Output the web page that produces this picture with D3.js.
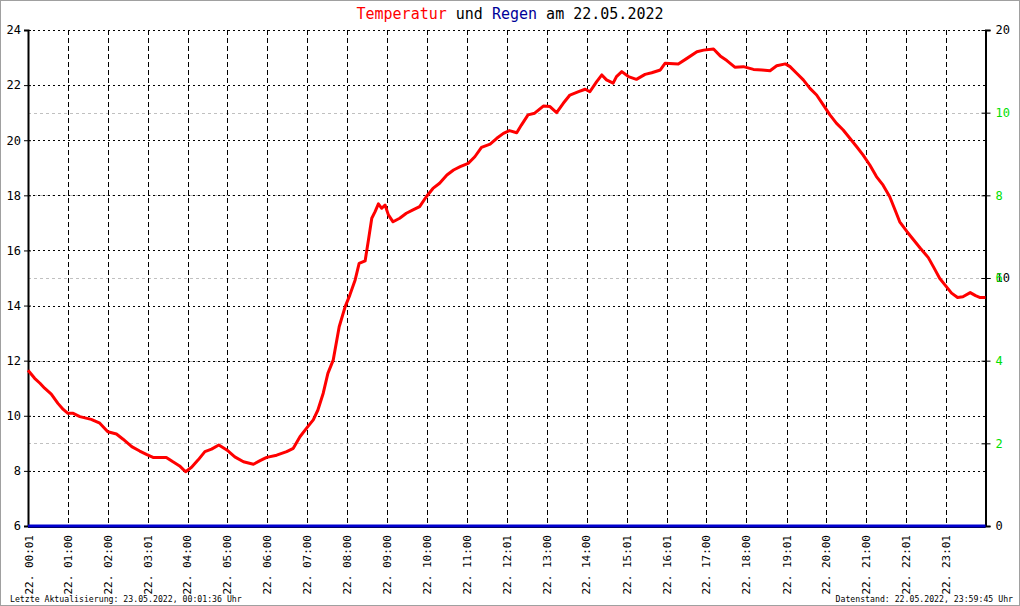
<!DOCTYPE html>
<html>
<head>
<meta charset="utf-8">
<script src="https://cdn.jsdelivr.net/npm/d3@7"></script>
<style>
  html, body { margin: 0; padding: 0; background: #fff; }
  svg { display: block; }
  text { font-family: "DejaVu Sans Mono", "Liberation Mono", monospace; white-space: pre; }
</style>
</head>
<body>
<svg id="chart" width="1020" height="606"></svg>
<script>
// ---- data ----
// time in minutes since 00:00 on 22.05.2022
const tempTimes = [0,10,18,25,35,45,53,60,68,78,95,108,120,133,143,156,168,178,188,208,218,228,237,246,256,266,276,287,299,311,324,339,349,359,374,389,399,409,419,429,436,444,451,459,468,477,484,492,498,507,512,517,522,527,532,537,542,549,559,569,579,589,599,609,619,630,640,650,662,672,682,695,705,715,724,735,742,752,762,775,785,795,805,815,828,838,845,855,863,870,880,885,893,903,915,928,938,951,958,978,991,1006,1016,1031,1041,1051,1063,1076,1091,1104,1116,1126,1139,1146,1156,1166,1176,1186,1196,1206,1216,1226,1236,1246,1256,1266,1276,1286,1296,1304,1311,1322,1332,1342,1354,1363,1371,1379,1389,1398,1406,1417,1425,1432,1440];
const temperature = [11.65,11.36,11.18,11.0,10.79,10.45,10.23,10.09,10.09,9.97,9.87,9.73,9.42,9.34,9.15,8.88,8.72,8.60,8.49,8.49,8.33,8.18,7.97,8.13,8.40,8.70,8.79,8.94,8.76,8.51,8.33,8.24,8.37,8.49,8.57,8.70,8.82,9.24,9.55,9.85,10.21,10.82,11.54,12.02,13.23,13.96,14.38,14.93,15.53,15.62,16.38,17.17,17.41,17.69,17.53,17.65,17.29,17.04,17.17,17.35,17.47,17.59,17.95,18.25,18.44,18.74,18.92,19.04,19.16,19.40,19.74,19.86,20.07,20.25,20.35,20.27,20.55,20.92,20.98,21.24,21.22,21.0,21.34,21.64,21.76,21.85,21.76,22.12,22.37,22.19,22.07,22.31,22.49,22.31,22.21,22.39,22.45,22.55,22.79,22.77,22.97,23.21,23.27,23.31,23.06,22.89,22.65,22.67,22.57,22.55,22.52,22.70,22.77,22.67,22.43,22.19,21.88,21.64,21.28,20.92,20.61,20.37,20.07,19.77,19.46,19.10,18.68,18.37,17.95,17.47,17.04,16.68,16.38,16.08,15.74,15.35,14.99,14.75,14.45,14.29,14.32,14.47,14.36,14.29,14.29];
const rainTimes = [0, 1440];
const rain = [0, 0];

const tempTicks = [6, 8, 10, 12, 14, 16, 18, 20, 22, 24];
const rainTicks = [0, 10, 20];
const secondTicks = [2, 4, 6, 8, 10];
const xTickTimes = [1, 60, 120, 181, 240, 300, 360, 420, 480, 540, 600, 660, 721, 780, 840, 901, 961, 1020, 1080, 1141, 1200, 1260, 1321, 1381];
const xTickLabels = ["22. 00:01","22. 01:00","22. 02:00","22. 03:01","22. 04:00","22. 05:00","22. 06:00","22. 07:00","22. 08:00","22. 09:00","22. 10:00","22. 11:00","22. 12:01","22. 13:00","22. 14:00","22. 15:01","22. 16:01","22. 17:00","22. 18:00","22. 19:01","22. 20:00","22. 21:00","22. 22:01","22. 23:01"];

// ---- layout ----
const W = 1020, H = 606;
const L = 28, R = 985.5, T = 30, B = 526;
const svg = d3.select("#chart");

const x = d3.scaleLinear().domain([0, 1440]).range([L, R]);
const yT = d3.scaleLinear().domain([6, 24]).range([B, T]);
const yR = d3.scaleLinear().domain([0, 20]).range([B, T]);
const y2 = d3.scaleLinear().domain([0, 12]).range([B, T]);

// outer frame
svg.append("rect").attr("x", 0.5).attr("y", 0.5).attr("width", W - 1).attr("height", H - 1)
  .attr("fill", "#fff").attr("stroke", "#a0a0a0").attr("stroke-width", 1);

// title
const title = svg.append("text").attr("x", 510).attr("y", 19).attr("text-anchor", "middle")
  .attr("font-size", 15);
title.append("tspan").attr("fill", "#ff0000").text("Temperatur");
title.append("tspan").attr("fill", "#000").text(" und ");
title.append("tspan").attr("fill", "#000099").text("Regen");
title.append("tspan").attr("fill", "#000").text(" am 22.05.2022");

// gray dashed grid for second right scale
svg.append("g").selectAll("line").data(secondTicks).join("line")
  .attr("x1", L).attr("x2", R)
  .attr("y1", d => Math.round(y2(d)) + 0.5).attr("y2", d => Math.round(y2(d)) + 0.5)
  .attr("stroke", "#c0c0c0").attr("stroke-dasharray", "3,3");

// horizontal dotted grid (temperature)
svg.append("g").selectAll("line").data(tempTicks.filter(d => d > 6)).join("line")
  .attr("x1", L).attr("x2", R)
  .attr("y1", d => Math.round(yT(d)) + 0.5).attr("y2", d => Math.round(yT(d)) + 0.5)
  .attr("stroke", "#000").attr("stroke-dasharray", "2,3");

// vertical dashed grid
svg.append("g").selectAll("line").data(xTickTimes.slice(1)).join("line")
  .attr("x1", d => Math.round(x(d)) + 0.5).attr("x2", d => Math.round(x(d)) + 0.5)
  .attr("y1", T).attr("y2", B)
  .attr("stroke", "#000").attr("stroke-dasharray", "5,3");

// left axis
const gL = svg.append("g").attr("transform", `translate(${L},0)`)
  .call(d3.axisLeft(yT).tickValues(tempTicks).tickSize(4).tickPadding(3).tickFormat(d3.format("d")));
gL.select(".domain").attr("stroke", "#000").attr("stroke-width", 2);
gL.selectAll(".tick line").attr("x2", -4).attr("x1", 3).attr("stroke", "#000");
gL.selectAll(".tick text").attr("font-size", 12).attr("font-family", "DejaVu Sans Mono").attr("fill", "#000").attr("x", -7);

// right axis (rain, black)
const gR = svg.append("g").attr("transform", `translate(${R},0)`)
  .call(d3.axisRight(yR).tickValues(rainTicks).tickSize(5).tickPadding(4).tickFormat(d3.format("d")));
gR.select(".domain").attr("stroke", "#000").attr("stroke-width", 2);
gR.selectAll(".tick line").attr("x1", -4).attr("stroke", "#000");
gR.selectAll(".tick text").attr("font-size", 12).attr("font-family", "DejaVu Sans Mono").attr("fill", "#000").attr("x", 10);

// right axis (second scale, green)
const g2 = svg.append("g").attr("transform", `translate(${R},0)`)
  .call(d3.axisRight(y2).tickValues(secondTicks).tickSize(5).tickPadding(4).tickFormat(d3.format("d")));
g2.select(".domain").remove();
g2.selectAll(".tick line").attr("x1", -4).attr("stroke", "#000");
g2.selectAll(".tick text").attr("font-size", 12).attr("font-family", "DejaVu Sans Mono").attr("fill", "#00e000").attr("x", 10);

// bottom axis line
svg.append("line").attr("x1", L).attr("x2", R).attr("y1", B + 1).attr("y2", B + 1)
  .attr("stroke", "#000").attr("stroke-width", 2);

// x tick labels (rotated)
svg.append("g").selectAll("text").data(xTickTimes).join("text")
  .attr("transform", (d, i) => `translate(${x(d)},535) rotate(-90)`)
  .attr("text-anchor", "end").attr("dy", "0.35em")
  .attr("font-size", 11).attr("fill", "#000")
  .text((d, i) => xTickLabels[i]);

// rain line
const rainLine = d3.line().x((d, i) => x(rainTimes[i])).y(d => yR(d));
svg.append("path").datum(rain).attr("d", rainLine)
  .attr("fill", "none").attr("stroke", "#0000d0").attr("stroke-width", 3);

// temperature line
const tempLine = d3.line().x((d, i) => x(tempTimes[i])).y(d => yT(d));
svg.append("path").datum(temperature).attr("d", tempLine)
  .attr("fill", "none").attr("stroke", "#ff0000").attr("stroke-width", 3)
  .attr("stroke-linejoin", "round");

// footer
svg.append("text").attr("x", 10).attr("y", 602).attr("font-size", 8.2).attr("fill", "#000")
  .text("Letzte Aktualisierung: 23.05.2022, 00:01:36 Uhr");
svg.append("text").attr("x", 1013).attr("y", 602).attr("text-anchor", "end").attr("font-size", 8.2).attr("fill", "#000")
  .text("Datenstand: 22.05.2022, 23:59:45 Uhr");
</script>
</body>
</html>
